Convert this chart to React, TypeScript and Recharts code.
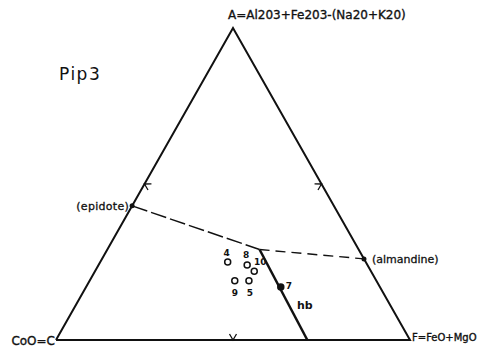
import React from 'react';
import { ScatterChart, Scatter, XAxis, YAxis } from 'recharts';

// ACF diagram, compositions given as fractions of A, C and F
const vertexNames = ['C', 'F', 'A'];
const vertexA = [0, 0, 1];
const vertexC = [1, 0, 0];
const vertexF = [0, 1, 0];

const mineralNames = ['(epidote)', '(almandine)'];
const mineralA = [0.43, 0.26];
const mineralC = [0.57, 0];
const mineralF = [0, 0.74];

// hornblende: junction with the tie lines, then down to the C-F side
const hbA = [0.29, 0];
const hbC = [0.28, 0.29];
const hbF = [0.43, 0.71];

const sampleIds = ['4', '8', '10', '9', '5', '7'];
const sampleA = [0.25, 0.24, 0.22, 0.19, 0.19, 0.17];
const sampleC = [0.39, 0.34, 0.33, 0.4, 0.36, 0.28];
const sampleF = [0.36, 0.42, 0.45, 0.41, 0.45, 0.55];

// edge midpoints carry a small chevron
const markA = [0.5, 0.5, 0];
const markC = [0.5, 0, 0.5];
const markF = [0, 0.5, 0.5];

const W = 492;
const H = 359;
const INK = '#111';
const FONT = '"DejaVu Sans", sans-serif';

// ternary -> cartesian (x along C-F, y towards A)
const toXY = (a: number, c: number, f: number) => {
  const s = a + c + f;
  return { x: (f + a / 2) / s, y: a / s };
};

const vertices = vertexNames.map((name, i) => ({ name, ...toXY(vertexA[i], vertexC[i], vertexF[i]) }));
const outline = [...vertices, vertices[0]];
const minerals = mineralNames.map((name, i) => ({ name, ...toXY(mineralA[i], mineralC[i], mineralF[i]) }));
const hbLine = hbA.map((a, i) => toXY(a, hbC[i], hbF[i]));
const tieLeft = [minerals[0], hbLine[0]];
const tieRight = [hbLine[0], minerals[1]];
const samples = sampleIds.map((id, i) => ({ id, ...toXY(sampleA[i], sampleC[i], sampleF[i]) }));
const marks = markA.map((a, i) => ({ ...toXY(a, markC[i], markF[i]), rot: [119.4, -119.4, 0][i] }));

const Blank = () => <g />;

const labelPos: Record<string, { dx: number; dy: number; fill?: boolean }> = {
  '4': { dx: -1, dy: -6 },
  '8': { dx: -1, dy: -7 },
  '10': { dx: 6, dy: -6 },
  '9': { dx: 0, dy: 15 },
  '5': { dx: 1, dy: 15 },
  '7': { dx: 8, dy: 2, fill: true },
};

const SampleShape = (props: any) => {
  const { cx, cy, payload } = props;
  const p = labelPos[payload.id];
  return (
    <g>
      <circle cx={cx} cy={cy} r={3} fill={p.fill ? INK : '#fff'} stroke={INK} strokeWidth={1.5} />
      <text x={cx + p.dx} y={cy + p.dy} textAnchor="middle" fontSize={9} fontFamily={FONT} fill={INK} fontWeight="bold">
        {payload.id}
      </text>
    </g>
  );
};

const vertexText: Record<string, { text: string; size: number }> = {
  A: { text: 'A=Al203+Fe203-(Na20+K20)', size: 12 },
  C: { text: 'CoO=C', size: 12 },
  F: { text: 'F=FeO+MgO', size: 10 },
};

const VertexShape = (props: any) => {
  const { cx, cy, payload } = props;
  const n = payload.name;
  const x = n === 'A' ? cx - 5 : n === 'C' ? cx - 1 : cx + 2;
  const y = n === 'A' ? cy - 9 : n === 'C' ? cy + 5 : cy + 1;
  const t = vertexText[n];
  return (
    <text
      x={x}
      y={y}
      textAnchor={n === 'C' ? 'end' : 'start'}
      fontSize={t.size}
      fontFamily={FONT}
      fill={INK}
      stroke={INK}
      strokeWidth={0.35}
    >
      {t.text}
    </text>
  );
};

const MineralShape = (props: any) => {
  const { cx, cy, payload } = props;
  const left = payload.name === '(epidote)';
  return (
    <g>
      <circle cx={cx} cy={cy} r={2.5} fill={INK} />
      <text
        x={left ? cx - 3 : cx + 8}
        y={cy + 4}
        textAnchor={left ? 'end' : 'start'}
        fontSize={11}
        letterSpacing={left ? 0.3 : 0}
        fontFamily={FONT}
        fill={INK}
        stroke={INK}
        strokeWidth={0.3}
      >
        {payload.name}
      </text>
    </g>
  );
};

const MarkShape = (props: any) => {
  const { cx, cy, payload } = props;
  return (
    <path
      d="M -3.5 -6 L 0 0 L 3.5 -6"
      transform={`translate(${cx},${cy}) rotate(${payload.rot})`}
      fill="none"
      stroke={INK}
      strokeWidth={1.3}
    />
  );
};

export default function App() {
  return (
    <div style={{ position: 'absolute', left: 0, top: 0, width: W, height: H, background: '#fff' }}>
      <ScatterChart width={W} height={H} margin={{ top: 28, right: 82, bottom: 19, left: 56 }}>
        <XAxis type="number" dataKey="x" domain={[0, 1]} hide />
        <YAxis type="number" dataKey="y" domain={[0, 1]} hide />
        <Scatter data={outline} line={{ stroke: INK, strokeWidth: 2 }} shape={Blank} isAnimationActive={false} />
        <Scatter data={tieLeft} line={{ stroke: INK, strokeWidth: 1.4, strokeDasharray: '16 4' }} shape={Blank} isAnimationActive={false} />
        <Scatter data={tieRight} line={{ stroke: INK, strokeWidth: 1.4, strokeDasharray: '10 6' }} shape={Blank} isAnimationActive={false} />
        <Scatter data={hbLine} line={{ stroke: INK, strokeWidth: 2.5 }} shape={Blank} isAnimationActive={false} />
        <Scatter data={marks} shape={MarkShape} isAnimationActive={false} />
        <Scatter data={vertices} shape={VertexShape} isAnimationActive={false} />
        <Scatter data={minerals} shape={MineralShape} isAnimationActive={false} />
        <Scatter data={samples} shape={SampleShape} isAnimationActive={false} />
      </ScatterChart>
      <div style={{ position: 'absolute', left: 59, top: 64, fontFamily: FONT, fontSize: 17, letterSpacing: 1.5, color: INK }}>Pip3</div>
      <div style={{ position: 'absolute', left: 297, top: 299, fontFamily: FONT, fontSize: 11, fontWeight: 'bold', color: INK }}>hb</div>
    </div>
  );
}
